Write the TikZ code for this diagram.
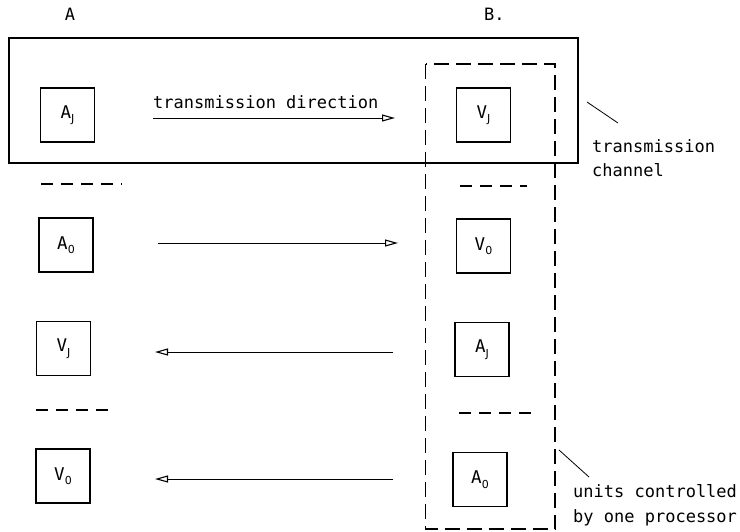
\documentclass[tikz,border=0pt]{standalone}
\usepackage{fontspec}
% stencil-like lettering: every character has the same width
\setmainfont{DejaVu Sans Mono}
\newfontfamily\idxfont{DejaVu Sans}
\usetikzlibrary{arrows.meta}
% lowered small index letter, as in A_J, V_0
\newcommand{\lowidx}[1]{\raisebox{-4.5pt}{\idxfont\fontsize{11}{11}\selectfont #1}}
\tikzset{
  unit/.style={draw, line width=1.1pt, minimum width=54pt, minimum height=54pt,
               inner sep=0pt, font=\fontsize{17.5}{17.5}\selectfont},
  label/.style={inner sep=0pt, anchor=base west, font=\fontsize{17}{17}\selectfont},
  flow/.style={line width=0.9pt, -{Triangle[open, length=13pt, width=7pt, line width=1.1pt]}},
  sep/.style={line width=1.1pt, dash pattern=on 12pt off 8pt},
  group/.style={line width=1.1pt, dash pattern=on 15pt off 7pt},
  channelbox/.style={line width=2pt},
  leader/.style={line width=0.8pt}
}
\begin{document}
\begin{tikzpicture}[x=1pt, y=-1pt]
  \useasboundingbox (0,0) rectangle (740,531);

  % column headings
  \node[label, anchor=base] (hA) at (70,20) {A};
  \node[label] (hB) at (484,20) {B.};

  % transmission channel and the units of one processor
  \draw[channelbox] (9,38) rectangle (578,163);
  \draw[group] (425.5,64) rectangle (555,529);

  % units on side A
  \node[unit] (aJl) at (67.5,115) {A\lowidx{J}};
  \node[unit] (a0l) at (66,245) {A\lowidx{0}};
  \node[unit] (vJl) at (63.5,348.5) {V\lowidx{J}};
  \node[unit] (v0l) at (63,476) {V\lowidx{0}};

  % units on side B
  \node[unit] (vJr) at (483.5,115) {V\lowidx{J}};
  \node[unit] (v0r) at (483.5,246) {V\lowidx{0}};
  \node[unit] (aJr) at (482,349.5) {A\lowidx{J}};
  \node[unit] (a0r) at (480,479.5) {A\lowidx{0}};

  % elided units
  \draw[sep] (41,184) -- (122,184);
  \draw[sep] (460,186) -- (527,186);
  \draw[sep] (36,410) -- (112,410);
  \draw[sep] (459,413) -- (537,413);

  % arrow ends
  \coordinate (s1) at (153,118);  \coordinate (e1) at (395,118);
  \coordinate (s2) at (158,243);  \coordinate (e2) at (398,243);
  \coordinate (s3) at (393,352);  \coordinate (e3) at (155,352);
  \coordinate (s4) at (393,479);  \coordinate (e4) at (155,479);

  \draw[flow] (s1) -- (e1);
  \draw[flow] (s2) -- (e2);
  \draw[flow] (s3) -- (e3);
  \draw[flow] (s4) -- (e4);

  \node[label] (dir) at (153,108) {transmission direction};

  % annotations
  \coordinate (c1) at (587,102); \coordinate (c2) at (618,123);
  \draw[leader] (c1) -- (c2);
  \node[label] (ch1) at (592,152) {transmission};
  \node[label] (ch2) at (592,176) {channel};

  \coordinate (u1) at (559,450); \coordinate (u2) at (589,477);
  \draw[leader] (u1) -- (u2);
  \node[label] (un1) at (573,497) {units controlled};
  \node[label] (un2) at (573,522) {by one processor};
\end{tikzpicture}
\end{document}
